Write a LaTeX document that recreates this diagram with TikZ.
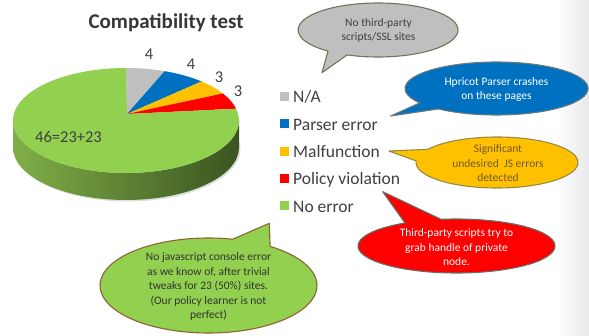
\documentclass[tikz,border=0pt]{standalone}
\usepackage{fontspec}
\setmainfont{Carlito}
\usetikzlibrary{calc}

% slice / legend colours
\definecolor{naGray}{HTML}{BFBFBF}
\definecolor{parserBlue}{HTML}{0070C0}
\definecolor{malYellow}{HTML}{FFC000}
\definecolor{polRed}{HTML}{FF0000}
\definecolor{okGreen}{HTML}{92D050}
\definecolor{labelText}{HTML}{404040}
% pie side shading
\definecolor{sideLight}{RGB}{128,175,72}
\definecolor{sideMid}{RGB}{82,118,46}
\definecolor{sideDark}{RGB}{58,84,32}
% callout outlines and text
\definecolor{edgeGray}{RGB}{118,114,88}
\definecolor{edgeBlue}{RGB}{104,122,122}
\definecolor{edgeYellow}{RGB}{150,138,70}
\definecolor{edgeRed}{RGB}{100,112,100}
\definecolor{edgeGreen}{RGB}{140,100,52}
\definecolor{yellowText}{RGB}{112,90,40}

\begin{document}
\begin{tikzpicture}[x=1pt,y=1pt,
  legendsq/.style={minimum size=9pt, inner sep=0pt},
  legendtxt/.style={anchor=base west, inner sep=0pt, text=labelText,
    font=\fontsize{17.5}{20}\selectfont},
  datalbl/.style={anchor=base, inner sep=0pt, text=labelText,
    font=\fontsize{16.5}{20}\selectfont},
  calltext/.style={align=center, inner sep=0pt,
    font=\fontsize{11.5}{14.5}\selectfont},
  callout/.style={line width=1.1pt, line join=round},
  pie/.style={x radius=113pt, y radius=52.5pt},
]
\useasboundingbox (0,0) rectangle (589,335);

% faint slide edge on the right
\shade[left color=white, right color=black!9] (556,0) rectangle (589,335);

% ---------- 3D pie ----------
\coordinate (pc) at (126,214.5);  % centre of the top face
\coordinate (pa) at (127,221);    % apex where the slices meet

% soft shadow below the pie
\fill[black, opacity=0.13] ($(pc)+(1.5,-28.5)$) ellipse[pie];

% front side of the cylinder
\shade[left color=sideLight, middle color=sideMid, right color=sideDark]
  ($(pc)+(0:113pt and 52.5pt)$)
  arc[pie, start angle=0, end angle=-180]
  -- ++(0,-27)
  arc[pie, start angle=180, end angle=360] -- cycle;

% top face slices: 4, 4, 3, 3, 46
\foreach \a/\b/\c in {90/70/naGray, 70/48/parserBlue, 48/31/malYellow,
                      31/13/polRed, 13/-270/okGreen}{
  \fill[\c] (pa) -- ($(pc)+(\a:113pt and 52.5pt)$)
    arc[pie, start angle=\a, end angle=\b] -- cycle;
}

% data labels
\node[datalbl] (vNA)  at (149,275)   {4};
\node[datalbl] (vPE)  at (191,265)   {4};
\node[datalbl] (vMF)  at (219,252.5) {3};
\node[datalbl] (vPV)  at (238,238.5) {3};
\node[datalbl] (vNE)  at (68.5,192.7) {46=23+23};

% title
\node[anchor=base, inner sep=0pt, text=labelText!85!black,
      font=\bfseries\fontsize{21}{24}\selectfont] (title) at (166,306.5)
  {Compatibility test};

% ---------- legend ----------
\node[legendsq, fill=naGray]     (sqNA) at (284,238.5) {};
\node[legendsq, fill=parserBlue] (sqPE) at (284,211.2) {};
\node[legendsq, fill=malYellow]  (sqMF) at (284,183.9) {};
\node[legendsq, fill=polRed]     (sqPV) at (284,156.6) {};
\node[legendsq, fill=okGreen]    (sqNE) at (284,129.3) {};
\node[legendtxt] (lNA) at (293,232)   {N/A};
\node[legendtxt] (lPE) at (293,204.7) {Parser error};
\node[legendtxt] (lMF) at (293,177.4) {Malfunction};
\node[legendtxt] (lPV) at (293,150.1) {Policy violation};
\node[legendtxt] (lNE) at (293,122.8) {No error};

% ---------- callouts ----------
% ellipse centres and the tips of their tails
\coordinate (gC) at (378,305);     \coordinate (gTip) at (322,262.3);
\coordinate (bC) at (496.5,246.5); \coordinate (bTip) at (390.7,219);
\coordinate (yC) at (497,172.5);   \coordinate (yTip) at (389,184);
\coordinate (rC) at (456.5,89);    \coordinate (rTip) at (382.7,143.3);
\coordinate (nC) at (208.5,49.5);  \coordinate (nTip) at (269.3,111.7);

% N/A
\path[callout, fill=naGray, draw=edgeGray]
  ($(gC)+(247.3:80pt and 27pt)$)
  arc[start angle=247.3, end angle=591.3, x radius=80pt, y radius=27pt]
  -- (gTip) -- cycle;
\node[calltext, text=labelText] (tNA) at ($(gC)+(0.5,-0.5)$)
  {No third-party\\scripts/SSL sites};

% Parser error
\path[callout, fill=parserBlue, draw=edgeBlue]
  ($(bC)+(230.5:91.5pt and 26.5pt)$)
  arc[start angle=230.5, end angle=573, x radius=91.5pt, y radius=26.5pt]
  -- (bTip) -- cycle;
\node[calltext, text=white] (tPE) at ($(bC)+(0,-1)$)
  {Hpricot Parser crashes\\on these pages};

% Malfunction
\path[callout, fill=malYellow, draw=edgeYellow]
  ($(yC)+(176.5:81pt and 25.5pt)$)
  arc[start angle=176.5, end angle=509, x radius=81pt, y radius=25.5pt]
  -- (yTip) -- cycle;
\node[calltext, text=yellowText] (tMF) at ($(yC)+(1,-1)$)
  {Significant\\undesired~~JS errors\\detected};

% Policy violation
\path[callout, fill=polRed, draw=edgeRed]
  ($(rC)+(121.5:98.5pt and 27pt)$)
  arc[start angle=121.5, end angle=459, x radius=98.5pt, y radius=27pt]
  -- (rTip) -- cycle;
\node[calltext, text=white] (tPV) at ($(rC)+(0,-1.5)$)
  {Third-party scripts try to\\grab handle of private\\node.};

% No error
\path[callout, fill=okGreen, draw=edgeGreen]
  ($(nC)+(77.1:108.5pt and 47.5pt)$)
  arc[start angle=77.1, end angle=415.4, x radius=108.5pt, y radius=47.5pt]
  -- (nTip) -- cycle;
\node[calltext, text=labelText!80!black] (tNE) at ($(nC)+(0,-1)$)
  {No javascript console error\\as we know of, after trivial\\tweaks for 23 (50\%) sites.\\(Our policy learner is not\\perfect)};
\end{tikzpicture}
\end{document}
